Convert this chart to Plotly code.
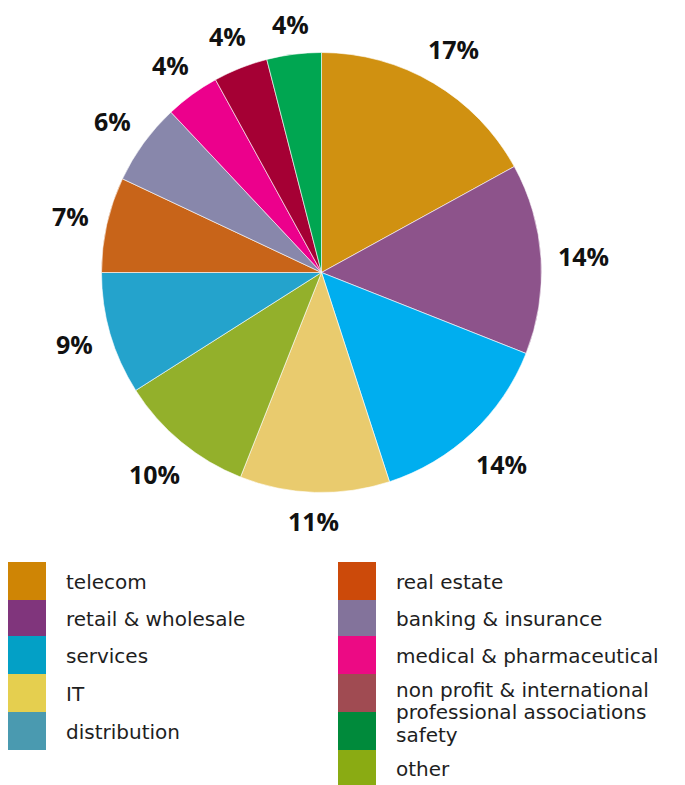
import math
import plotly.graph_objects as go

# Sector shares (%) in clockwise order starting at 12 o'clock
sectors = ["telecom", "retail & wholesale", "services", "IT", "other",
           "distribution", "real estate", "banking & insurance",
           "medical & pharmaceutical",
           "non profit & international professional associations",
           "safety"]
shares = [17, 14, 14, 11, 10, 9, 7, 6, 4, 4, 4]
slice_colors = ["#d09111", "#8d538b", "#00aeef", "#e9cb6e", "#93b02b",
                "#24a3cc", "#c86419", "#8887ab", "#ec008c", "#a50034",
                "#00a651"]

# Legend entries (two columns)
legend_left = ["telecom", "retail & wholesale", "services", "IT", "distribution"]
legend_left_colors = ["#cf8505", "#80357c", "#03a0c6", "#e5cf4f", "#4a9ab0"]
legend_right = ["real estate", "banking & insurance", "medical & pharmaceutical",
                "non profit & international<br>professional associations",
                "safety", "other"]
legend_right_colors = ["#cc4a0a", "#83739b", "#ec0a84", "#a04b52", "#008a3b",
                       "#8aab13"]

W, H = 685, 785
CX, CY, R = 321.5, 272.5, 220.0


def px_x(x):
    return x / W


def px_y(y):
    return 1 - y / H


fig = go.Figure()
fig.add_trace(go.Pie(
    labels=sectors,
    values=shares,
    sort=False,
    direction="clockwise",
    rotation=0,
    marker=dict(colors=slice_colors, line=dict(color="white", width=0.6)),
    textinfo="none",
    hoverinfo="label+percent",
    showlegend=False,
    domain=dict(x=[px_x(CX - R), px_x(CX + R)],
                y=[px_y(CY + R), px_y(CY - R)]),
))

annotations = []
shapes = []

# Percentage labels placed just outside each slice at its mid-angle
total = sum(shares)
cum = 0.0
for v in shares:
    mid = (cum + v / 2) / total * 2 * math.pi
    cum += v
    label = f"{v}%"
    half_w = 26 if v >= 10 else 19
    half_h = 12
    s, c = math.sin(mid), math.cos(mid)
    r = R + 16 + abs(s) * half_w + abs(c) * half_h
    x = CX + r * s
    y = CY - r * c
    annotations.append(dict(
        x=px_x(x), y=px_y(y), xref="paper", yref="paper",
        text=f"<b>{label}</b>", showarrow=False,
        xanchor="center", yanchor="middle",
        font=dict(family="Open Sans", size=25, color="#111111"),
    ))

# Custom two-column legend
row_edges = [562, 600, 636, 674, 712, 750, 785]
line_gap = 22
text_font = dict(family="DejaVu Sans", size=20, color="#1e1e1e")


def add_column(names, colors, sx0, sx1, tx):
    for i, (name, col) in enumerate(zip(names, colors)):
        y0, y1 = row_edges[i], row_edges[i + 1]
        shapes.append(dict(
            type="rect", xref="paper", yref="paper",
            x0=px_x(sx0), x1=px_x(sx1), y0=px_y(y1), y1=px_y(y0),
            fillcolor=col, line=dict(width=0), layer="above",
        ))
        lines = name.split("<br>")
        y_first = (y0 + y1) / 2 + 1
        if len(lines) > 1:
            y_first = y0 + 16
        elif i > 0 and len(names[i - 1].split("<br>")) > 1:
            y_first += 3
        for k, line in enumerate(lines):
            annotations.append(dict(
                x=px_x(tx), y=px_y(y_first + k * line_gap),
                xref="paper", yref="paper",
                text=line, showarrow=False, xanchor="left", yanchor="middle",
                align="left", font=text_font, borderpad=0,
            ))


add_column(legend_left, legend_left_colors, 8, 46, 65)
add_column(legend_right, legend_right_colors, 338, 376, 395)

fig.update_layout(
    width=W, height=H,
    margin=dict(l=0, r=0, t=0, b=0),
    paper_bgcolor="white",
    plot_bgcolor="white",
    annotations=annotations,
    shapes=shapes,
)

fig.write_html("out.html")
